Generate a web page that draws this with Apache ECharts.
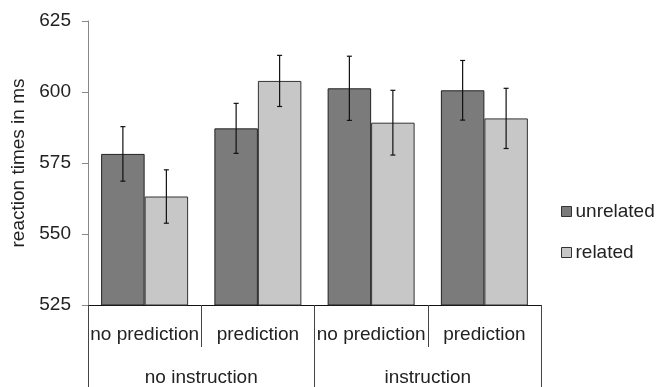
<!DOCTYPE html>
<html>
<head>
<meta charset="utf-8">
<script src="https://cdn.jsdelivr.net/npm/echarts@6/dist/echarts.min.js"></script>
<style>html,body{margin:0;padding:0;background:#fff}#c{width:658px;height:387px}</style>
</head>
<body>
<div id="c"></div>
<script>
const innerCategories = ['no prediction', 'prediction', 'no prediction', 'prediction'];
const outerCategories = ['no instruction', 'instruction'];
const seriesNames = ['unrelated', 'related'];
const unrelatedValues = [578.2, 587.2, 601.3, 600.6];
const relatedValues = [563.2, 603.9, 589.2, 590.7];
const unrelatedErrors = [9.6, 8.8, 11.3, 10.5];
const relatedErrors = [9.4, 9.0, 11.4, 10.6];
const yTicks = [525, 550, 575, 600, 625];

const FONT = 'Liberation Sans, Arial, sans-serif';
const FS = 19;
const BAR_FRAC = 0.384;

function errorSeries(values, errors, sign) {
  return {
    type: 'custom',
    xAxisIndex: 0,
    z: 10,
    silent: true,
    data: values.map((v, i) => [i, v - errors[i], v + errors[i]]),
    renderItem: function (params, api) {
      const band = api.size([1, 0])[0];
      const off = sign * band * BAR_FRAC / 2;
      const lo = api.coord([api.value(0), api.value(1)]);
      const hi = api.coord([api.value(0), api.value(2)]);
      const x = lo[0] + off;
      const cap = 2.5;
      const style = { stroke: '#111', lineWidth: 1.2 };
      return {
        type: 'group',
        children: [
          { type: 'line', shape: { x1: x, y1: lo[1], x2: x, y2: hi[1] }, style },
          { type: 'line', shape: { x1: x - cap, y1: lo[1], x2: x + cap, y2: lo[1] }, style },
          { type: 'line', shape: { x1: x - cap, y1: hi[1], x2: x + cap, y2: hi[1] }, style }
        ]
      };
    }
  };
}

const chart = echarts.init(document.getElementById('c'));
chart.setOption({
  animation: false,
  backgroundColor: '#fff',
  textStyle: { fontFamily: FONT },
  grid: { left: 88, right: 117, top: 21, bottom: 82 },
  legend: {
    orient: 'vertical',
    left: 561,
    top: 202,
    padding: 0,
    itemWidth: 10,
    itemHeight: 10,
    itemGap: 22,
    icon: 'rect',
    data: seriesNames,
    textStyle: { fontSize: FS, color: '#222', fontFamily: FONT, padding: [0, 0, 0, -1] },
    itemStyle: { borderColor: '#333', borderWidth: 1 }
  },
  xAxis: [
    {
      type: 'category',
      data: innerCategories,
      position: 'bottom',
      axisLine: { lineStyle: { color: '#111', width: 1 } },
      axisTick: { show: true, interval: 0, length: 42, lineStyle: { color: '#444' } },
      axisLabel: { interval: 0, fontSize: FS, color: '#222', margin: 20, fontFamily: FONT }
    },
    {
      type: 'category',
      data: outerCategories,
      position: 'bottom',
      axisLine: { show: false },
      axisTick: { show: true, interval: 0, length: 82, lineStyle: { color: '#444' } },
      axisLabel: { interval: 0, fontSize: FS, color: '#222', margin: 63, fontFamily: FONT }
    }
  ],
  yAxis: {
    type: 'value',
    min: yTicks[0],
    max: yTicks[yTicks.length - 1],
    interval: 25,
    name: 'reaction times in ms',
    nameLocation: 'middle',
    nameGap: 60,
    nameTextStyle: { fontSize: FS, color: '#222', fontFamily: FONT },
    axisLine: { show: true, lineStyle: { color: '#888' } },
    axisTick: { show: true, length: 6, lineStyle: { color: '#888' } },
    axisLabel: { fontSize: FS, color: '#222', margin: 17, fontFamily: FONT },
    splitLine: { show: false }
  },
  series: [
    {
      name: seriesNames[0],
      type: 'bar',
      data: unrelatedValues,
      barWidth: (BAR_FRAC * 100) + '%',
      barGap: '0%',
      itemStyle: { color: '#7b7b7b', borderColor: '#222', borderWidth: 1 }
    },
    {
      name: seriesNames[1],
      type: 'bar',
      data: relatedValues,
      barWidth: (BAR_FRAC * 100) + '%',
      barGap: '0%',
      itemStyle: { color: '#c6c7c6', borderColor: '#333', borderWidth: 1 }
    },
    errorSeries(unrelatedValues, unrelatedErrors, -1),
    errorSeries(relatedValues, relatedErrors, 1)
  ]
});
</script>
</body>
</html>
